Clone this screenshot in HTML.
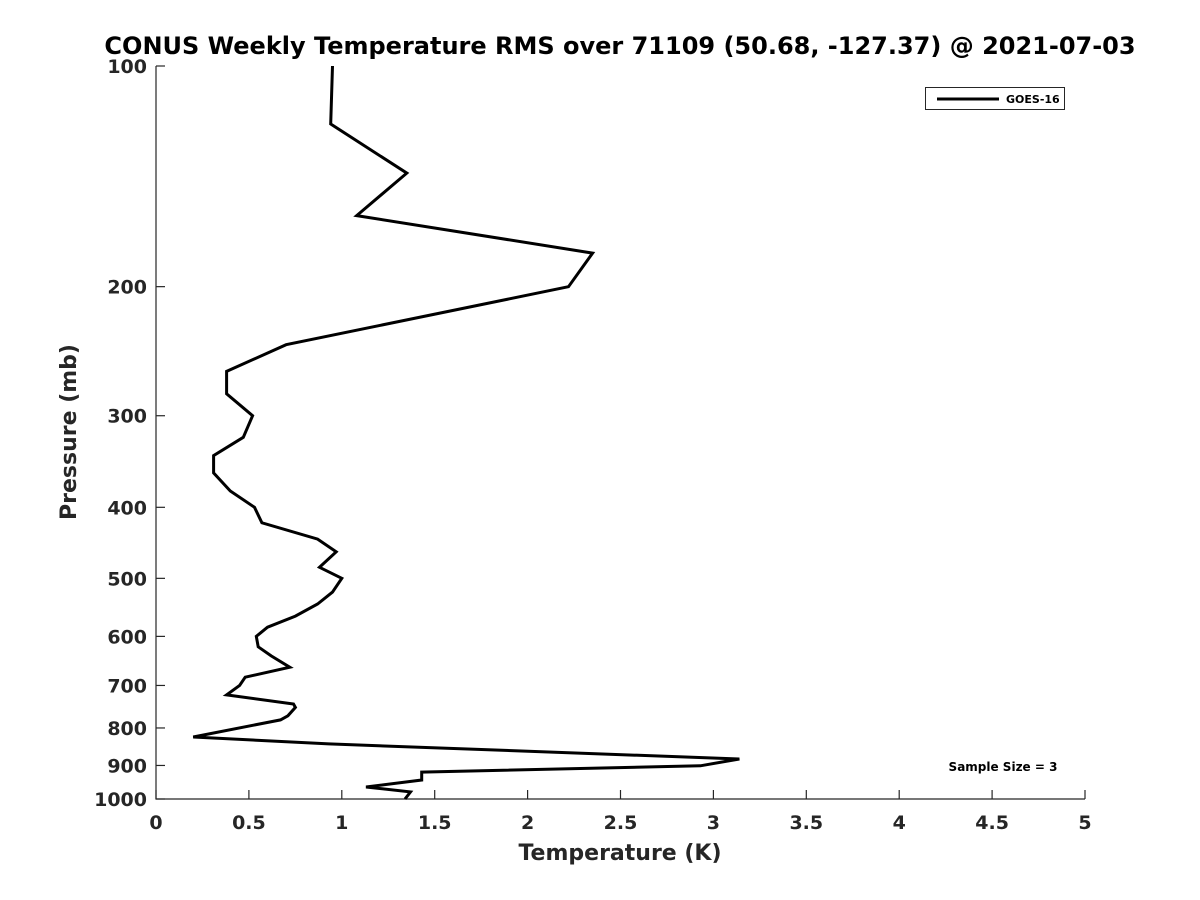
<!DOCTYPE html>
<html><head><meta charset="utf-8"><style>
html,body{margin:0;padding:0;background:#fff;}
svg{display:block;font-family:"DejaVu Sans","Liberation Sans",sans-serif;font-weight:bold;}
</style></head><body>
<svg id="chart" width="1200" height="900" viewBox="0 0 1200 900"></svg>
<script>
const pressures = [100,120,140,160,180,200,240,261,280,300,321,340,359,380,400,420,442,460,483,500,522,542,563,583,600,620,638,661,682,700,721,742,750,770,780,823,841,882,901,919,942,963,978,1000];
const temps = [0.95,0.94,1.35,1.08,2.35,2.22,0.70,0.38,0.38,0.52,0.47,0.31,0.31,0.40,0.53,0.57,0.87,0.97,0.88,1.0,0.95,0.87,0.75,0.60,0.54,0.55,0.62,0.72,0.48,0.45,0.38,0.74,0.75,0.71,0.67,0.20,0.93,3.14,2.93,1.43,1.43,1.13,1.37,1.34];
const xTicks = [0,0.5,1,1.5,2,2.5,3,3.5,4,4.5,5];
const xTickLabels = ["0","0.5","1","1.5","2","2.5","3","3.5","4","4.5","5"];
const yTicks = [100,200,300,400,500,600,700,800,900,1000];
const yTickLabels = ["100","200","300","400","500","600","700","800","900","1000"];

const L=156,R=1085,T=66,B=799;
const xs = v => L + (v-0)/(5-0)*(R-L);
const ys = p => T + Math.log10(p/100)*(B-T);
const NS="http://www.w3.org/2000/svg";
const svg=document.getElementById('chart');
function mk(tag,attrs,parent){const e=document.createElementNS(NS,tag);for(const k in attrs)e.setAttribute(k,attrs[k]);(parent||svg).appendChild(e);return e;}

const title=mk('text',{x:620,y:54,'text-anchor':'middle','font-size':24,fill:'#000'});


title.textContent='CONUS Weekly Temperature RMS over 71109 (50.68, -127.37) @ 2021-07-03';

const axes=mk('path',{d:`M${L},${T}V${B}H${R}`,stroke:'#262626','stroke-width':1.2,fill:'none'});



xTicks.forEach((v,i)=>{
  const x=xs(v);
  const t=mk('line',{x1:x,x2:x,y1:B,y2:B-9,stroke:'#262626','stroke-width':1.2});
  
  
  const l=mk('text',{x:x,y:B+30,'text-anchor':'middle','font-size':19,fill:'#262626'});
  
  
  l.textContent=xTickLabels[i];
});
yTicks.forEach((v,i)=>{
  const y=ys(v);
  const t=mk('line',{x1:L,x2:L+9,y1:y,y2:y,stroke:'#262626','stroke-width':1.2});
  
  
  const l=mk('text',{x:L-9,y:y+7,'text-anchor':'end','font-size':19,fill:'#262626'});
  
  
  l.textContent=yTickLabels[i];
});

const xl=mk('text',{x:620,y:860,'text-anchor':'middle','font-size':22,fill:'#262626'});


xl.textContent='Temperature (K)';
const yl=mk('text',{x:0,y:0,'text-anchor':'middle','font-size':22,fill:'#262626',transform:'translate(76,432) rotate(-90)'});


yl.textContent='Pressure (mb)';

const pts=pressures.map((p,i)=>`${xs(temps[i]).toFixed(1)},${ys(p).toFixed(1)}`).join(' ');
const line=mk('polyline',{points:pts,fill:'none',stroke:'#000','stroke-width':3,'stroke-linejoin':'miter'});



const lg=mk('g',{});


mk('rect',{x:925.5,y:87.5,width:139,height:22,fill:'#fff',stroke:'#262626','stroke-width':1},lg);
mk('line',{x1:937,x2:999,y1:99,y2:99,stroke:'#000','stroke-width':3},lg);
const lt=mk('text',{x:1006,y:103,'font-size':11,fill:'#000'},lg);


lt.textContent='GOES-16';

const ss=mk('text',{x:1003,y:771,'text-anchor':'middle','font-size':12,fill:'#000'});


ss.textContent='Sample Size = 3';
</script>
</body></html>
